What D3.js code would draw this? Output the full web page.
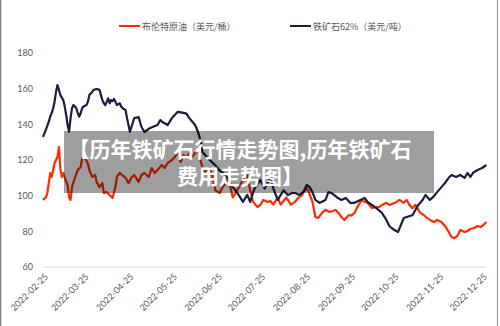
<!DOCTYPE html>
<html>
<head>
<meta charset="utf-8">
<script src="https://cdn.jsdelivr.net/npm/d3@7"></script>
<style>
  body { margin: 0; background: #fff; }
  svg { font-family: "Noto Sans CJK SC", "Noto Sans", sans-serif; }
</style>
</head>
<body>
<svg id="chart" width="500" height="326"></svg>
<script>
// series names
const seriesNames = ["布伦特原油（美元/桶）", "铁矿石62%（美元/吨）"];

// Brent crude
const brentDates = ["2022-02-25","2022-02-27","2022-02-28","2022-03-02","2022-03-03","2022-03-05","2022-03-06","2022-03-07","2022-03-08","2022-03-09","2022-03-10","2022-03-11","2022-03-12","2022-03-14","2022-03-15","2022-03-16","2022-03-17","2022-03-19","2022-03-21","2022-03-23","2022-03-24","2022-03-26","2022-03-28","2022-03-29","2022-03-31","2022-04-02","2022-04-03","2022-04-05","2022-04-07","2022-04-08","2022-04-10","2022-04-12","2022-04-14","2022-04-16","2022-04-17","2022-04-19","2022-04-20","2022-04-23","2022-04-25","2022-04-27","2022-04-29","2022-05-02","2022-05-04","2022-05-06","2022-05-09","2022-05-11","2022-05-13","2022-05-15","2022-05-18","2022-05-20","2022-05-22","2022-05-25","2022-05-27","2022-05-29","2022-05-31","2022-06-02","2022-06-04","2022-06-06","2022-06-08","2022-06-10","2022-06-12","2022-06-14","2022-06-16","2022-06-20","2022-06-22","2022-06-24","2022-06-27","2022-06-29","2022-07-02","2022-07-04","2022-07-06","2022-07-09","2022-07-11","2022-07-14","2022-07-16","2022-07-18","2022-07-20","2022-07-23","2022-07-25","2022-07-27","2022-07-30","2022-08-01","2022-08-03","2022-08-06","2022-08-08","2022-08-10","2022-08-12","2022-08-15","2022-08-18","2022-08-20","2022-08-23","2022-08-25","2022-08-27","2022-08-30","2022-09-01","2022-09-03","2022-09-06","2022-09-08","2022-09-11","2022-09-15","2022-09-17","2022-09-19","2022-09-21","2022-09-24","2022-09-26","2022-09-28","2022-09-30","2022-10-03","2022-10-05","2022-10-07","2022-10-10","2022-10-12","2022-10-15","2022-10-17","2022-10-20","2022-10-22","2022-10-26","2022-10-29","2022-11-01","2022-11-03","2022-11-05","2022-11-07","2022-11-09","2022-11-12","2022-11-15","2022-11-17","2022-11-19","2022-11-22","2022-11-24","2022-11-27","2022-11-30","2022-12-02","2022-12-04","2022-12-06","2022-12-08","2022-12-10","2022-12-13","2022-12-15","2022-12-17","2022-12-20","2022-12-22","2022-12-24","2022-12-26","2022-12-28"];
const brentValues = [97.6,99,101.5,112.7,110.5,118.3,120,121.7,127.3,115,110.5,112.7,110,106,99,97.6,104.8,110,114.4,116,121,121,118,114.4,110.5,111.6,107.7,104.8,107,101.5,102,100.4,98.7,104.8,110.5,112.7,112,110,107,110,111.6,107.7,111.6,112.7,110.5,115.5,112.7,114.4,117.2,115.5,118.3,120,121.7,124.5,118.8,122.8,121,123.9,121.7,124,125.5,119,113,115.5,110.5,103,101.5,104.8,107.7,106,99,103,106,110,111.6,103,96.5,93.6,94.8,97.6,96.5,97,95,99,95,97,99,95,96.5,98.7,100.4,104.8,103,96.5,88,87.5,90.8,92,90.8,92,90.3,88,86.4,89,89,90.3,93.6,97.6,96.5,96,93,93.6,93.6,94.8,96,94.8,96,97.6,96,97.6,94.8,93,94.8,90.8,89,87.5,86.4,85.2,86.4,85.2,82.4,79.6,76.8,76.2,77.4,80.7,79.6,80.2,81.3,82,83,82.4,83.5,85.2];

// iron ore 62%
const oreDates = ["2022-02-25","2022-02-27","2022-03-01","2022-03-02","2022-03-03","2022-03-04","2022-03-05","2022-03-06","2022-03-07","2022-03-08","2022-03-09","2022-03-11","2022-03-12","2022-03-13","2022-03-14","2022-03-15","2022-03-16","2022-03-17","2022-03-18","2022-03-19","2022-03-20","2022-03-21","2022-03-22","2022-03-23","2022-03-24","2022-03-25","2022-03-27","2022-03-28","2022-03-29","2022-03-31","2022-04-01","2022-04-03","2022-04-05","2022-04-06","2022-04-07","2022-04-08","2022-04-09","2022-04-10","2022-04-11","2022-04-12","2022-04-13","2022-04-14","2022-04-15","2022-04-16","2022-04-17","2022-04-19","2022-04-20","2022-04-21","2022-04-23","2022-04-24","2022-04-25","2022-04-26","2022-04-29","2022-05-02","2022-05-04","2022-05-06","2022-05-10","2022-05-15","2022-05-17","2022-05-19","2022-05-22","2022-05-25","2022-05-29","2022-06-02","2022-06-04","2022-06-06","2022-06-10","2022-06-12","2022-06-14","2022-06-15","2022-06-20","2022-06-24","2022-06-27","2022-07-01","2022-07-05","2022-07-10","2022-07-13","2022-07-16","2022-07-18","2022-07-21","2022-07-25","2022-07-28","2022-08-01","2022-08-03","2022-08-06","2022-08-10","2022-08-13","2022-08-16","2022-08-18","2022-08-21","2022-08-25","2022-08-26","2022-08-28","2022-08-30","2022-09-01","2022-09-04","2022-09-08","2022-09-10","2022-09-12","2022-09-16","2022-09-19","2022-09-22","2022-09-25","2022-09-28","2022-10-02","2022-10-05","2022-10-07","2022-10-10","2022-10-13","2022-10-17","2022-10-20","2022-10-22","2022-10-25","2022-10-28","2022-11-01","2022-11-03","2022-11-07","2022-11-09","2022-11-11","2022-11-14","2022-11-16","2022-11-19","2022-11-21","2022-11-24","2022-11-27","2022-11-30","2022-12-02","2022-12-04","2022-12-07","2022-12-10","2022-12-13","2022-12-15","2022-12-17","2022-12-19","2022-12-22","2022-12-25","2022-12-28"];
const oreValues = [133,137,141.5,144.3,146.3,149,152.7,158.3,162,159.3,156.4,153.6,150,145.2,139.6,135.9,143.4,149,150.8,150,149,146.2,144.3,146.2,149,150,150.8,152.7,156.4,158.3,159.3,159.8,159.3,156.4,153.6,151.8,150.8,152.7,154.6,151.8,153.6,153,154.2,152.7,150.8,151.8,150,149,148,143.4,139.6,135.9,143.5,144,138.5,135.7,138,139.6,142.4,141,139.6,143.5,147,146.4,146,143.5,139.6,135.7,130,124.5,120,117,114,111.6,106,100.4,96.5,100.4,96.5,104,108.8,104,110,104,97.6,103,100.4,101.5,101.5,100.4,103,106,104.8,102,97.6,96,97.6,102,101.5,99,97.6,98.7,96,96,97.6,98.7,96.5,94.8,93,90.3,86.4,83,81,79.6,87.5,88,89,92,94.8,97.6,100.4,97.6,99,102,104.8,107.7,110,111.6,110.5,111.6,110,112.7,110.5,113,114.4,115.5,117.2];

const yTicks = [60, 80, 100, 120, 140, 160, 180];
const xTickLabels = ["2022-02-25","2022-03-25","2022-04-25","2022-05-25","2022-06-25","2022-07-25","2022-08-25","2022-09-25","2022-10-25","2022-11-25","2022-12-25"];

const colors = ["#ff2a00", "#1c1c3e"];
const parse = d3.timeParse("%Y-%m-%d");

const brent = brentDates.map((d, i) => ({date: parse(d), value: brentValues[i]}));
const ore = oreDates.map((d, i) => ({date: parse(d), value: oreValues[i]}));

const svg = d3.select("#chart");

const x = d3.scaleTime()
  .domain([parse("2022-02-25"), parse("2022-12-25")])
  .range([43, 482]);
const y = d3.scaleLinear()
  .domain([60, 180])
  .range([267, 53]);

// frame lines at the left and right edge
svg.append("line").attr("x1", 0.5).attr("x2", 0.5).attr("y1", 0).attr("y2", 326)
  .attr("stroke", "#7a7a7a").attr("stroke-width", 1.5);
svg.append("line").attr("x1", 497.5).attr("x2", 497.5).attr("y1", 0).attr("y2", 326)
  .attr("stroke", "#9a9a9a").attr("stroke-width", 1);

// y axis labels
const yAxis = d3.axisLeft(y).tickValues(yTicks).tickSize(0).tickPadding(0);
const yg = svg.append("g").attr("transform", "translate(33,0)").call(yAxis);
yg.select(".domain").remove();
yg.selectAll("text").attr("fill", "#595959").attr("font-size", 9)
  .attr("font-family", "Lato, 'Noto Sans', sans-serif");

// baseline
svg.append("line")
  .attr("x1", 43).attr("x2", 486)
  .attr("y1", y(60)).attr("y2", y(60))
  .attr("stroke", "#d9d9d9").attr("stroke-width", 1);

// x axis labels
const xAxis = d3.axisBottom(x)
  .tickValues(xTickLabels.map(parse))
  .tickFormat(d3.timeFormat("%Y-%m-%d"))
  .tickSize(0).tickPadding(0);
const xg = svg.append("g").attr("transform", `translate(0,${y(60) + 6})`).call(xAxis);
xg.select(".domain").remove();
xg.selectAll("text")
  .attr("fill", "#595959").attr("font-size", 9)
  .attr("font-family", "Lato, 'Noto Sans', sans-serif")
  .attr("text-anchor", "end")
  .attr("dy", "0.35em")
  .attr("transform", "translate(3,2) rotate(-45)");

// lines
const line = d3.line().x(d => x(d.date)).y(d => y(d.value));
[brent, ore].forEach((s, i) => {
  svg.append("path")
    .datum(s)
    .attr("fill", "none")
    .attr("stroke", colors[i])
    .attr("stroke-width", 2.2)
    .attr("stroke-linejoin", "round")
    .attr("d", line);
});

// legend
const legendX = [119, 290];
seriesNames.forEach((name, i) => {
  const g = svg.append("g").attr("transform", `translate(${legendX[i]},26)`);
  g.append("line").attr("x1", 0).attr("x2", 21).attr("y1", 0).attr("y2", 0)
    .attr("stroke", colors[i]).attr("stroke-width", 2);
  g.append("text").attr("x", 23).attr("y", 3.5)
    .attr("fill", "#595959").attr("font-size", 9).text(name);
});

// title overlay, one text block wrapped over two lines
svg.append("rect")
  .attr("x", 64).attr("y", 131).attr("width", 370).attr("height", 62)
  .attr("fill", "rgba(0,0,0,0.38)");
const titleLines = ["【历年铁矿石行情走势图,历年铁矿石", "费用走势图】"];
const title = svg.append("text")
  .attr("text-anchor", "middle")
  .attr("fill", "#fff").attr("font-size", 21).attr("font-weight", "bold");
titleLines.forEach((t, i) => {
  title.append("tspan").attr("x", 240).attr("y", 157 + i * 27).text(t);
});
</script>
</body>
</html>
